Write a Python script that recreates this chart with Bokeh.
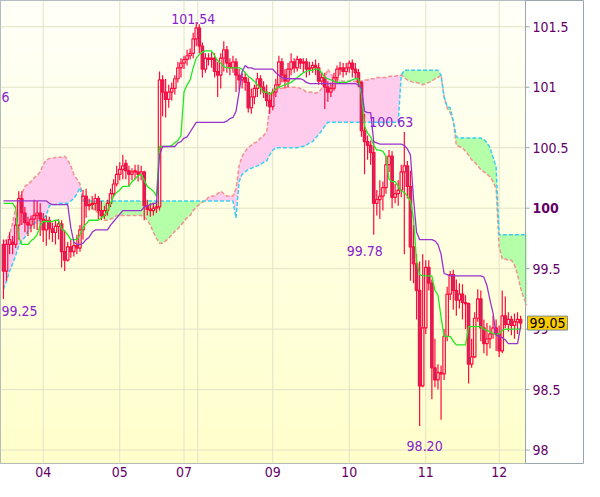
import numpy as np
from bokeh.plotting import figure
from bokeh.models import Range1d, FixedTicker, Label
from bokeh.core.properties import value
from bokeh.embed import file_html
from bokeh.resources import INLINE

# ---------------- data ----------------
opens = [
    99.70, 99.48, 99.70, 99.72, 99.70, 99.86, 100.08, 99.96, 99.88, 99.86,
    99.91, 99.94, 99.96, 99.91, 99.82, 99.90, 99.83, 99.80, 99.85, 99.87,
    99.64, 99.57, 99.68, 99.64, 99.69, 99.67, 99.82, 100.10, 100.02, 100.03,
    100.04, 100.08, 99.98, 99.94, 99.98, 100.04, 100.12, 100.20, 100.28, 100.32,
    100.37, 100.31, 100.28, 100.30, 100.30, 100.28, 100.30, 100.02, 99.99, 99.98,
    100.00, 100.01, 101.06, 100.96, 100.90, 100.96, 100.99, 101.07, 101.16, 101.20,
    101.23, 101.26, 101.28, 101.40, 101.49, 101.34, 101.15, 101.24, 101.23, 101.24,
    101.13, 101.10, 101.24, 101.31, 101.20, 101.16, 101.21, 101.10, 101.06, 101.08,
    101.04, 100.83, 100.92, 100.99, 101.07, 101.00, 100.96, 100.89, 100.84, 100.96,
    101.02, 101.21, 101.10, 101.05, 101.15, 101.21, 101.16, 101.23, 101.20, 101.21,
    101.15, 101.16, 101.18, 101.16, 101.05, 101.08, 101.00, 100.96, 100.99, 101.08,
    101.15, 101.16, 101.13, 101.16, 101.20, 101.15, 101.12, 101.04, 100.64, 100.55,
    100.52, 100.46, 100.04, 100.07, 100.10, 100.17, 100.36, 100.43, 100.09, 100.12,
    100.15, 100.30, 100.35, 100.18, 99.68, 99.54, 99.32, 98.53, 99.01, 99.51,
    99.38, 98.68, 98.58, 98.64, 98.63, 98.94, 99.29, 99.45, 99.32, 99.24,
    99.29, 99.22, 99.21, 98.71, 98.77, 99.09, 99.25, 99.01, 98.88, 98.92,
    98.96, 99.01, 98.96, 98.82, 99.11, 99.04, 99.08, 99.03, 99.06, 99.08,
]
closes = [
    99.48, 99.70, 99.74, 99.70, 99.86, 100.08, 99.96, 99.88, 99.86, 99.91,
    99.94, 99.96, 99.91, 99.82, 99.90, 99.83, 99.80, 99.85, 99.87, 99.64,
    99.57, 99.68, 99.64, 99.69, 99.67, 99.82, 100.10, 100.02, 100.03, 100.04,
    100.08, 99.98, 99.94, 99.98, 100.04, 100.12, 100.20, 100.28, 100.32, 100.35,
    100.31, 100.28, 100.30, 100.31, 100.28, 100.30, 100.02, 99.99, 99.98, 100.00,
    100.01, 101.06, 100.96, 100.90, 100.96, 100.99, 101.07, 101.16, 101.20, 101.23,
    101.26, 101.28, 101.40, 101.49, 101.34, 101.15, 101.24, 101.23, 101.24, 101.13,
    101.10, 101.24, 101.31, 101.20, 101.16, 101.21, 101.10, 101.06, 101.08, 101.04,
    100.83, 100.92, 100.99, 101.07, 101.00, 100.96, 100.89, 100.84, 100.96, 101.02,
    101.21, 101.10, 101.05, 101.15, 101.21, 101.16, 101.23, 101.20, 101.21, 101.15,
    101.16, 101.18, 101.16, 101.05, 101.08, 101.00, 100.96, 100.99, 101.08, 101.15,
    101.16, 101.13, 101.16, 101.20, 101.15, 101.12, 101.04, 100.64, 100.55, 100.52,
    100.46, 100.04, 100.07, 100.10, 100.17, 100.36, 100.43, 100.09, 100.12, 100.15,
    100.30, 100.35, 100.18, 99.68, 99.54, 99.32, 98.53, 99.01, 99.51, 99.38,
    98.68, 98.58, 98.64, 98.63, 98.94, 99.29, 99.45, 99.32, 99.24, 99.29,
    99.22, 99.21, 98.71, 98.77, 99.09, 99.25, 99.01, 98.88, 98.92, 98.96,
    99.01, 98.96, 98.82, 99.11, 99.04, 99.08, 99.03, 99.06, 99.08, 99.05,
]
highs = [
    99.74, 99.74, 99.80, 99.77, 99.92, 100.14, 100.14, 100.01, 99.93, 99.94,
    100.07, 100.06, 100.04, 99.96, 99.94, 99.93, 99.88, 99.90, 99.91, 99.90,
    99.82, 99.72, 99.74, 99.72, 99.78, 99.86, 100.15, 100.16, 100.08, 100.10,
    100.12, 100.10, 100.06, 100.02, 100.07, 100.16, 100.24, 100.35, 100.38, 100.44,
    100.40, 100.35, 100.33, 100.36, 100.36, 100.35, 100.31, 100.07, 100.04, 100.04,
    100.06, 101.13, 101.10, 101.07, 101.02, 101.04, 101.10, 101.21, 101.24, 101.26,
    101.31, 101.32, 101.45, 101.54, 101.52, 101.37, 101.28, 101.28, 101.29, 101.28,
    101.21, 101.28, 101.38, 101.34, 101.24, 101.26, 101.24, 101.15, 101.12, 101.12,
    101.08, 100.99, 101.02, 101.12, 101.10, 101.05, 101.02, 100.96, 100.99, 101.07,
    101.26, 101.24, 101.15, 101.20, 101.28, 101.24, 101.26, 101.24, 101.24, 101.24,
    101.21, 101.21, 101.23, 101.20, 101.12, 101.12, 101.05, 101.04, 101.12, 101.18,
    101.21, 101.20, 101.20, 101.22, 101.23, 101.20, 101.15, 101.05, 100.78, 100.60,
    100.56, 100.55, 100.15, 100.23, 100.22, 100.43, 100.48, 100.47, 100.20, 100.23,
    100.36, 100.63, 100.39, 100.31, 99.86, 99.62, 99.56, 99.62, 99.57, 99.57,
    99.41, 98.92, 98.71, 98.70, 99.00, 99.35, 99.48, 99.49, 99.41, 99.38,
    99.37, 99.28, 99.22, 98.92, 99.14, 99.33, 99.32, 99.08, 99.05, 99.03,
    99.11, 99.08, 99.03, 99.32, 99.27, 99.14, 99.11, 99.13, 99.14, 99.11,
]
lows = [
    99.25, 99.40, 99.62, 99.62, 99.67, 99.74, 99.86, 99.80, 99.77, 99.80,
    99.83, 99.82, 99.77, 99.72, 99.69, 99.74, 99.72, 99.70, 99.74, 99.51,
    99.48, 99.56, 99.59, 99.60, 99.62, 99.64, 99.74, 99.92, 99.98, 99.99,
    99.98, 99.91, 99.90, 99.91, 99.94, 100.01, 100.09, 100.18, 100.23, 100.24,
    100.24, 100.18, 100.23, 100.24, 100.22, 100.23, 99.90, 99.94, 99.93, 99.94,
    99.96, 99.98, 100.76, 100.75, 100.83, 100.89, 100.94, 101.04, 101.08, 101.15,
    101.18, 101.23, 101.24, 101.34, 101.28, 101.08, 101.12, 101.18, 101.16, 101.08,
    100.92, 100.99, 101.13, 101.12, 101.10, 101.12, 100.96, 100.98, 100.99, 100.97,
    100.79, 100.78, 100.86, 100.92, 100.94, 100.91, 100.84, 100.78, 100.81, 100.92,
    100.99, 101.04, 100.99, 101.00, 101.10, 101.12, 101.13, 101.15, 101.12, 101.08,
    101.10, 101.12, 101.10, 101.02, 101.02, 100.82, 100.88, 100.92, 100.97, 101.04,
    101.10, 101.08, 101.10, 101.12, 101.08, 101.07, 101.00, 100.59, 100.28, 100.40,
    100.36, 99.78, 99.94, 99.91, 99.98, 100.12, 100.30, 100.00, 100.04, 100.02,
    100.09, 99.62, 100.08, 99.40, 99.38, 99.08, 98.20, 98.52, 98.96, 99.32,
    98.42, 98.52, 98.50, 98.25, 98.58, 98.90, 99.24, 99.16, 99.11, 99.17,
    99.08, 99.00, 98.55, 98.68, 98.76, 99.06, 98.90, 98.80, 98.78, 98.84,
    98.92, 98.82, 98.77, 98.80, 99.01, 98.98, 98.95, 98.92, 98.96, 99.00,
]
tenkan = [
    100.04, 100.04, 100.04, 100.04, 100.00, 99.76, 99.70, 99.70, 99.70, 99.73,
    99.75, 99.78, 99.86, 99.89, 99.89, 99.89, 99.89, 99.90, 99.90, 99.83,
    99.81, 99.78, 99.74, 99.74, 99.74, 99.78, 99.84, 99.87, 99.90, 99.90,
    99.90, 99.90, 99.92, 99.94, 99.98, 100.04, 100.10, 100.13, 100.15, 100.18,
    100.18, 100.18, 100.22, 100.24, 100.27, 100.28, 100.23, 100.18, 100.16, 100.14,
    100.10, 100.51, 100.51, 100.51, 100.51, 100.52, 100.54, 100.56, 100.60, 100.96,
    101.02, 101.06, 101.16, 101.24, 101.27, 101.29, 101.30, 101.30, 101.30, 101.26,
    101.22, 101.20, 101.17, 101.16, 101.16, 101.16, 101.16, 101.16, 101.15, 101.12,
    101.09, 101.07, 101.05, 101.02, 100.99, 100.96, 100.96, 100.94, 100.96, 100.99,
    101.00, 101.01, 101.02, 101.03, 101.04, 101.06, 101.08, 101.10, 101.12, 101.13,
    101.14, 101.14, 101.15, 101.15, 101.12, 101.08, 101.07, 101.06, 101.05, 101.04,
    101.04, 101.04, 101.04, 101.05, 101.06, 101.07, 101.07, 100.94, 100.68, 100.62,
    100.59, 100.52, 100.48, 100.48, 100.47, 100.43, 100.24, 100.22, 100.22, 100.18,
    100.14, 100.13, 100.10, 100.06, 99.92, 99.56, 99.45, 99.44, 99.44, 99.44,
    99.44, 99.32, 99.28, 99.10, 98.94, 98.94, 98.94, 98.90, 98.87, 98.87,
    98.87, 98.87, 99.02, 99.02, 99.02, 99.02, 99.02, 99.00, 98.99, 98.98,
    98.96, 98.96, 98.96, 98.99, 99.00, 99.00, 99.00, 99.00, 99.00, 99.00,
]
kijun = [
    100.06, 100.06, 100.06, 100.06, 100.06, 100.06, 100.06, 100.06, 100.06, 100.06,
    100.06, 100.06, 100.06, 100.06, 100.06, 100.04, 100.03, 100.03, 100.03, 100.03,
    100.03, 100.03, 99.84, 99.72, 99.70, 99.70, 99.71, 99.74, 99.76, 99.80,
    99.82, 99.82, 99.82, 99.82, 99.82, 99.86, 99.89, 99.92, 99.95, 99.98,
    99.98, 99.98, 99.98, 99.98, 99.98, 99.98, 100.01, 100.02, 100.03, 100.04,
    100.04, 100.44, 100.51, 100.51, 100.51, 100.51, 100.51, 100.54, 100.55, 100.58,
    100.59, 100.63, 100.67, 100.71, 100.71, 100.71, 100.71, 100.71, 100.71, 100.71,
    100.71, 100.71, 100.71, 100.72, 100.74, 100.75, 100.80, 100.96, 101.13, 101.18,
    101.16, 101.16, 101.15, 101.15, 101.15, 101.15, 101.15, 101.15, 101.15, 101.12,
    101.10, 101.08, 101.07, 101.07, 101.07, 101.07, 101.07, 101.07, 101.06, 101.04,
    101.03, 101.03, 101.03, 101.03, 101.03, 101.03, 101.03, 101.03, 101.03, 101.03,
    101.03, 101.03, 101.03, 101.03, 101.03, 101.03, 101.02, 100.99, 100.80, 100.79,
    100.79, 100.55, 100.54, 100.53, 100.53, 100.53, 100.53, 100.53, 100.53, 100.53,
    100.53, 100.52, 100.49, 100.44, 100.08, 99.80, 99.74, 99.74, 99.74, 99.74,
    99.74, 99.73, 99.70, 99.62, 99.46, 99.45, 99.44, 99.44, 99.44, 99.44,
    99.44, 99.44, 99.44, 99.44, 99.44, 99.44, 99.44, 99.43, 99.36, 99.24,
    99.13, 98.95, 98.94, 98.93, 98.91, 98.88, 98.88, 98.88, 98.88, 99.02,
]
span_a = [
    99.72, 99.74, 99.78, 99.88, 100.01, 100.06, 100.12, 100.18, 100.20, 100.22,
    100.25, 100.27, 100.30, 100.36, 100.40, 100.41, 100.41, 100.42, 100.42, 100.42,
    100.43, 100.40, 100.35, 100.28, 100.24, 100.20, 100.08, 100.03, 100.02, 100.00,
    99.98, 99.96, 99.93, 99.90, 99.90, 99.91, 99.92, 99.94, 99.94, 99.94,
    99.94, 99.94, 99.94, 99.94, 99.94, 99.94, 99.93, 99.90, 99.86, 99.80,
    99.75, 99.71, 99.71, 99.73, 99.75, 99.78, 99.81, 99.83, 99.86, 99.89,
    99.92, 99.94, 99.98, 100.01, 100.03, 100.05, 100.06, 100.09, 100.10, 100.10,
    100.12, 100.14, 100.12, 100.10, 100.10, 100.10, 100.16, 100.35, 100.43, 100.47,
    100.50, 100.52, 100.54, 100.55, 100.58, 100.60, 100.63, 100.84, 100.95, 100.98,
    100.99, 100.99, 101.00, 101.00, 101.00, 101.00, 101.00, 100.99, 100.98, 100.96,
    100.96, 100.96, 100.95, 100.96, 100.99, 101.07, 101.15, 101.11, 101.08, 101.07,
    101.06, 101.05, 101.05, 101.05, 101.05, 101.05, 101.05, 101.05, 101.06, 101.06,
    101.07, 101.07, 101.08, 101.08, 101.08, 101.08, 101.09, 101.09, 101.09, 101.10,
    101.10, 101.08, 101.06, 101.05, 101.04, 101.04, 101.03, 101.02, 101.03, 101.04,
    101.05, 101.07, 101.08, 101.10, 100.92, 100.83, 100.79, 100.72, 100.52, 100.51,
    100.50, 100.47, 100.44, 100.40, 100.38, 100.35, 100.32, 100.30, 100.28, 100.26,
    100.22, 100.16, 99.68, 99.58, 99.58, 99.57, 99.57, 99.53, 99.45, 99.34,
    99.26, 99.20,
]
span_b = [
    99.33, 99.40, 99.48, 99.54, 99.61, 99.69, 99.73, 99.76, 99.81, 99.85,
    99.87, 99.89, 99.90, 99.92, 99.94, 100.02, 100.03, 100.03, 100.04, 100.04,
    100.04, 100.04, 100.06, 100.08, 100.12, 100.17, 100.06, 100.06, 100.06, 100.06,
    100.06, 100.06, 100.06, 100.06, 100.06, 100.06, 100.06, 100.06, 100.06, 100.06,
    100.06, 100.06, 100.06, 100.06, 100.06, 100.06, 100.06, 100.06, 100.06, 100.06,
    100.06, 100.06, 100.06, 100.06, 100.06, 100.06, 100.06, 100.06, 100.06, 100.06,
    100.06, 100.06, 100.06, 100.06, 100.06, 100.06, 100.06, 100.06, 100.06, 100.06,
    100.06, 100.06, 100.06, 100.06, 100.06, 100.06, 99.92, 100.22, 100.28, 100.30,
    100.32, 100.33, 100.34, 100.35, 100.36, 100.38, 100.39, 100.44, 100.48, 100.50,
    100.50, 100.50, 100.50, 100.50, 100.50, 100.50, 100.50, 100.51, 100.51, 100.52,
    100.54, 100.55, 100.58, 100.61, 100.64, 100.68, 100.71, 100.71, 100.71, 100.71,
    100.71, 100.71, 100.71, 100.71, 100.71, 100.71, 100.71, 100.71, 100.71, 100.71,
    100.71, 100.71, 100.71, 100.71, 100.71, 100.71, 100.71, 100.71, 100.71, 100.71,
    101.10, 101.14, 101.14, 101.14, 101.14, 101.14, 101.14, 101.14, 101.14, 101.14,
    101.14, 101.14, 101.14, 101.10, 100.92, 100.84, 100.83, 100.72, 100.59, 100.58,
    100.58, 100.58, 100.58, 100.58, 100.58, 100.58, 100.58, 100.57, 100.54, 100.50,
    100.42, 100.34, 99.78, 99.78, 99.78, 99.78, 99.78, 99.78, 99.78, 99.78,
    99.78, 99.78,
]
day_ticks = [13, 38, 59, 88, 113, 138, 162]
day_labels = ["04", "05", "07", "09", "10", "11", "12"]
week_line = [63.5]                     # unlabelled separator line after "07"
price_ticks = [98, 98.5, 99, 99.5, 100, 100.5, 101, 101.5]
price_labels = ["98", "98.5", "99", "99.5", "100", "100.5", "101", "101.5"]
last_price = 99.05
# high / low markers: candle index, value, text
marker_idx = [63, 131, 121, 136, 0]
marker_val = [101.54, 100.63, 99.78, 98.20, 99.25]
marker_txt = ["101.54", "100.63", "99.78", "98.20", "99.25"]
edge_marker_txt = "6"          # tail of a marker cut by the left border
edge_marker_val = 100.92

# ---------------- styling ----------------
FONT = "DejaVu Sans Condensed, Liberation Sans Narrow, DejaVu Sans"
FS = "14px"
AXIS_TXT = "#660066"
ANN_TXT = "#8822CC"
GRID = "#E2E2C8"
FRAME = "#9AA6AE"
CANDLE = "#FF0A3C"
BEAR_FILL = "#B8306E"

W, H = 584, 481
x_lo, x_plot_hi = -0.97, 170.6           # price panel spans these candle indices
plot_px = 525.0                           # width of the price panel in pixels
ppx = plot_px / (x_plot_hi - x_lo)
x_full_hi = x_lo + W / ppx               # frame also covers the right-hand scale area
y_lo, y_hi = 97.889, 101.717

p = figure(width=W, height=H, output_backend="svg", toolbar_location=None,
           x_range=Range1d(x_lo, x_full_hi), y_range=Range1d(y_lo, y_hi),
           y_axis_location=None,
           min_border_left=0, min_border_top=0, min_border_right=0, min_border_bottom=18,
           border_fill_color="white", background_fill_color="white",
           outline_line_color=FRAME, outline_line_width=1)
p.xgrid.visible = False
p.ygrid.visible = False

# background gradient of the price panel (cream at top -> light yellow at bottom)
rows = 96
img = np.zeros((rows, 1), dtype=np.uint32)
view = img.view(dtype=np.uint8).reshape((rows, 1, 4))
t = np.linspace(0.0, 1.0, rows)
view[:, 0, 0] = 255
view[:, 0, 1] = 255
view[:, 0, 2] = (204 + (248 - 204) * t).astype(np.uint8)
view[:, 0, 3] = 255
p.image_rgba(image=[img], x=x_lo, y=y_lo, dw=x_plot_hi - x_lo, dh=y_hi - y_lo)

# grid lines of the price panel
n_d = len(day_ticks)
p.segment(x0=day_ticks + week_line, y0=[y_lo] * (n_d + 1),
          x1=day_ticks + week_line, y1=[y_hi] * (n_d + 1), line_color=GRID, line_width=1)
n_p = len(price_ticks)
p.segment(x0=[x_lo] * n_p, y0=price_ticks, x1=[x_plot_hi] * n_p, y1=price_ticks,
          line_color=GRID, line_width=1)

# cloud
a = np.array(span_a)
b = np.array(span_b)
xs_span = np.arange(len(a))
upper = np.maximum(a, b)
p.varea(x=xs_span, y1=b, y2=upper, fill_color="#FFCCEE")
p.varea(x=xs_span, y1=a, y2=upper, fill_color="#B4FFA8")
p.line(xs_span, a, line_color="#F49090", line_width=1.5, line_dash="4 2")
p.line(xs_span, b, line_color="#38D0F0", line_width=1.5, line_dash="4 2")

# candles
o = np.array(opens); c = np.array(closes); h = np.array(highs); l = np.array(lows)
idx = np.arange(len(o))
body_top = np.maximum(o, c)
body_bot = np.minimum(o, c)
p.segment(idx, h, idx, body_top, line_color=CANDLE, line_width=1.2)
p.segment(idx, body_bot, idx, l, line_color=CANDLE, line_width=1.2)
up = c >= o
p.vbar(x=idx[up], width=0.8, top=body_top[up], bottom=body_bot[up],
       fill_color=None, line_color=CANDLE, line_width=1.2)
p.vbar(x=idx[~up], width=0.8, top=body_top[~up], bottom=body_bot[~up],
       fill_color=BEAR_FILL, line_color=CANDLE, line_width=1.2)

# conversion / base lines
p.line(idx, tenkan, line_color="#22E822", line_width=1.3)
p.line(idx, kijun, line_color="#9933CC", line_width=1.3)

# high / low markers
marker_style = [
    dict(text_align="center", text_baseline="alphabetic", x_offset=-3, y_offset=-3),
    dict(text_align="center", text_baseline="alphabetic", x_offset=-13, y_offset=-10),
    dict(text_align="center", text_baseline="top", x_offset=-9, y_offset=11),
    dict(text_align="center", text_baseline="top", x_offset=5, y_offset=15),
    dict(text_align="left", text_baseline="top", x_offset=-2, y_offset=7),
]
for i, v, s, st in zip(marker_idx, marker_val, marker_txt, marker_style):
    p.text(x=[i], y=[v], text=[s], text_color=ANN_TXT, text_font=value(FONT),
           text_font_size=FS, **st)
p.text(x=[x_lo], y=[edge_marker_val], text=[edge_marker_txt], text_color=ANN_TXT,
       text_font=value(FONT), text_font_size=FS, text_align="left",
       text_baseline="middle", x_offset=1)

# right border of the price panel, price scale ticks and labels
p.segment(x0=[x_plot_hi], y0=[y_lo], x1=[x_plot_hi], y1=[y_hi], line_color=FRAME, line_width=1)
p.segment(x0=[x_plot_hi] * n_p, y0=price_ticks, x1=[x_plot_hi + 4 / ppx] * n_p, y1=price_ticks,
          line_color=FRAME, line_width=1)
normal = [k for k, s in enumerate(price_labels) if s != "100"]
bold = [k for k, s in enumerate(price_labels) if s == "100"]
p.text(x=[x_plot_hi + 7 / ppx] * len(normal), y=[price_ticks[k] for k in normal],
       text=[price_labels[k] for k in normal], text_color=AXIS_TXT, text_font=value(FONT),
       text_font_size=FS, text_align="left", text_baseline="middle")
p.text(x=[x_plot_hi + 7 / ppx] * len(bold), y=[price_ticks[k] for k in bold],
       text=[price_labels[k] for k in bold], text_color=AXIS_TXT, text_font=value(FONT),
       text_font_size=FS, text_font_style="bold", text_align="left", text_baseline="middle")

p.add_layout(Label(x=x_plot_hi + 2 / ppx, y=last_price, text=f"{last_price:.2f}", text_font=FONT,
                   text_font_size=FS, text_color="black", text_baseline="middle",
                   text_align="left", background_fill_color="#FFCC00",
                   border_line_color="#7F8C98", border_line_width=1, padding=2))

# time axis
xa = p.xaxis[0]
xa.ticker = FixedTicker(ticks=day_ticks)
xa.major_label_overrides = {t_: s_ for t_, s_ in zip(day_ticks, day_labels)}
xa.major_label_text_color = AXIS_TXT
xa.major_label_text_font = FONT
xa.major_label_text_font_size = FS
xa.major_label_standoff = 3
xa.major_tick_out = 0
xa.major_tick_in = 0
xa.minor_tick_out = 0
xa.minor_tick_in = 0
xa.axis_line_color = None

open("out.html", "w").write(file_html(p, INLINE))
